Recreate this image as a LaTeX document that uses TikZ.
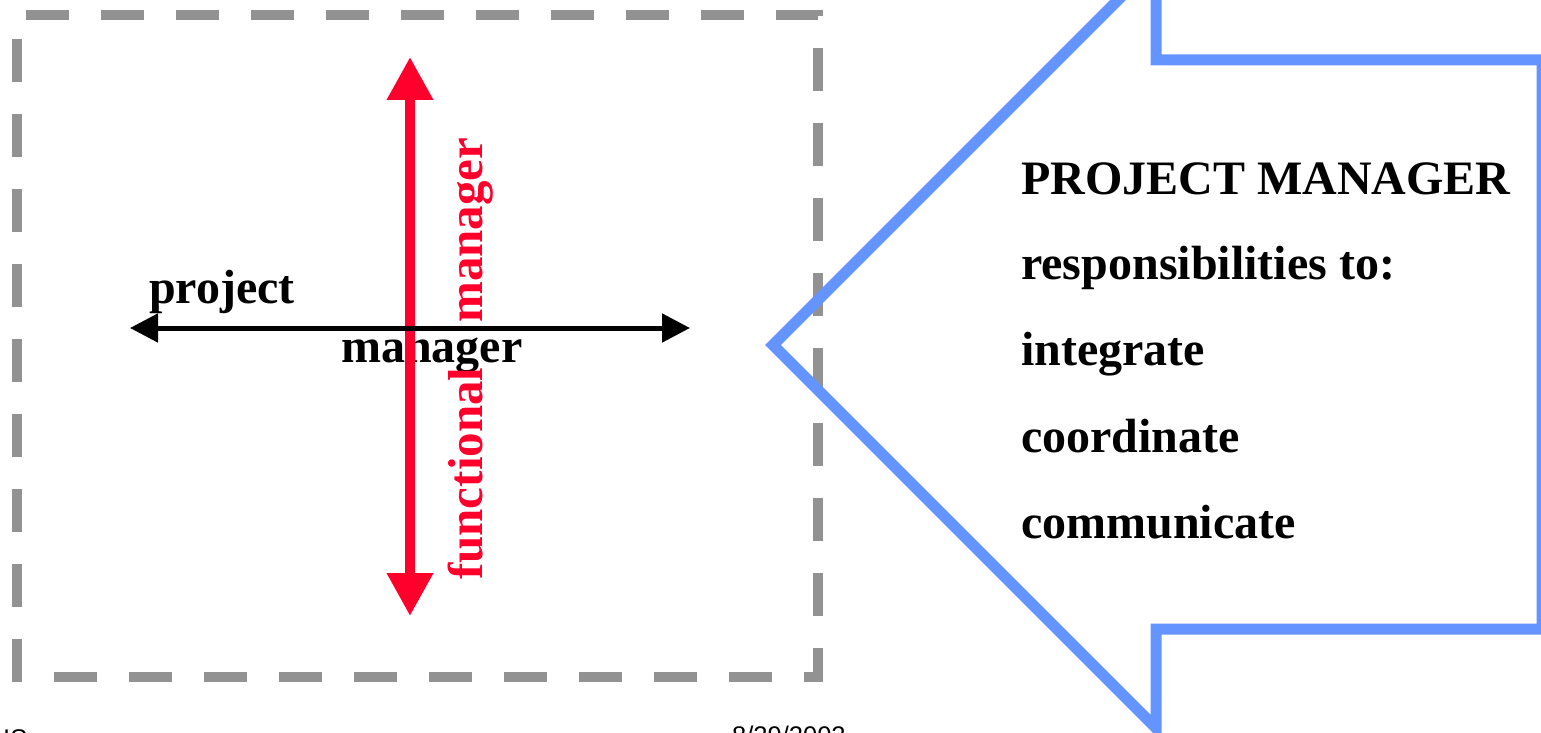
\documentclass[tikz,border=0pt]{standalone}
\usepackage{fontspec}
\setmainfont{Liberation Serif}
\newfontfamily\footfont{Liberation Sans}
\usetikzlibrary{arrows.meta}
\definecolor{dashgray}{RGB}{146,146,146}
\definecolor{redarrow}{RGB}{255,0,45}
\definecolor{calloutblue}{RGB}{100,148,255}
\tikzset{
  bigtext/.style={font=\fontsize{48}{58}\selectfont\bfseries, inner sep=0pt, anchor=base west},
  redtext/.style={bigtext, font=\fontsize{49}{58}\selectfont\bfseries, text=redarrow, rotate=90},
  foottext/.style={font=\footfont\fontsize{25.5}{30}\selectfont, inner sep=0pt, anchor=base west},
  framebox/.style={draw=dashgray, line width=10pt, dash pattern=on 43pt off 32pt, dash phase=66pt},
  redarr/.style={draw=redarrow, line width=10pt, {Triangle[length=43pt,width=44pt]}-{Triangle[length=43pt,width=44pt]}},
  blackarr/.style={draw=black, line width=5pt, {Triangle[length=28pt,width=28pt]}-{Triangle[length=28pt,width=28pt]}},
  callout/.style={draw=calloutblue, line width=11pt, miter limit=20}
}
\begin{document}
\begin{tikzpicture}[x=1pt,y=-1pt]
\useasboundingbox (0,0) rectangle (1541,733);
% dashed frame
\draw[framebox] (17,15) -- (818,15) -- (818,677) -- (17,677) -- cycle;
% labels on the cross
\node[bigtext] (proj) at (149,303) {project};
\node[bigtext] (mgr) at (341,362) {manager};
% arrows
\coordinate (vt) at (410,57);
\coordinate (vb) at (410,616);
\coordinate (hl) at (130,328);
\coordinate (hr) at (690,328);
\draw[redarr] (vt) -- (vb);
\draw[blackarr] (hl) -- (hr);
\node[redtext] (func) at (482,580) {functional};
\node[redtext] (fmgr) at (482,323) {manager};
% callout
\draw[callout] (773,345) -- (1156,-38) -- (1156,60) -- (1542,60) -- (1542,629) -- (1156,629) -- (1156,728) -- cycle;
% callout text
\node[bigtext] (t1) at (1021,194) {PROJECT MANAGER};
\node[bigtext] (t2) at (1021,279) {responsibilities to:};
\node[bigtext] (t3) at (1021,365) {integrate};
\node[bigtext] (t4) at (1021,452) {coordinate};
\node[bigtext] (t5) at (1021,538) {communicate};
% footer fragments
\node[foottext] (fl) at (3,747) {IS};
\node[foottext] (fr) at (732,744) {8/29/2002};
\end{tikzpicture}
\end{document}
